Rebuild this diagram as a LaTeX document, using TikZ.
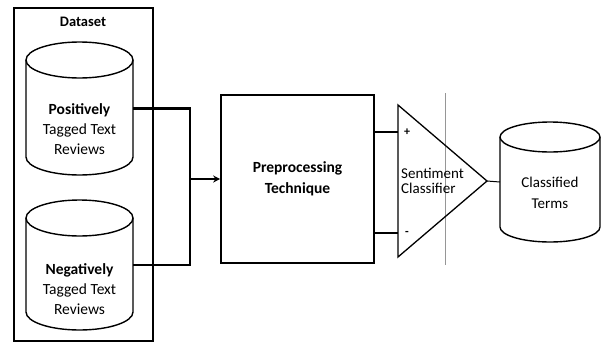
\documentclass[tikz,border=0pt]{standalone}
\usepackage{fontspec}
\setmainfont{Carlito}
\usepackage{tikz}
\usetikzlibrary{arrows.meta,positioning,calc}
\definecolor{LineGray}{RGB}{150,150,150}

\begin{document}
\begin{tikzpicture}[x=1pt, y=1pt,
    txt/.style={font=\fontsize{15.5}{20}\selectfont, align=center, inner sep=0pt},
    dbbody/.style={inner sep=0pt, outer sep=0pt},
    cyl/.style={line width=1.4pt},
    conn/.style={line width=2.2pt}]
        \useasboundingbox (0,0) rectangle (602,-343);
        % dataset frame
        \node[draw, line width=1.6pt, minimum width=139, minimum height=333, inner sep=0pt] (dataset) at (83.5,-174.5) {};
        \node[txt, font=\fontsize{14.5}{20}\selectfont\bfseries] (dslabel) at (83,-22) {Dataset};
        % positive reviews
        \node[dbbody, minimum width=107, minimum height=97] (posdb) at (79.5,-108.5) {};
        \draw[cyl] (posdb.north west) -- (posdb.south west) arc (180:360:53.5 and 18) -- (posdb.north east);
        \draw[cyl] (posdb.north) ellipse (53.5 and 18);
        \node[txt] (postxt) at (79.5,-129) {\textbf{Positively}\\Tagged Text\\Reviews};
        % negative reviews
        \node[dbbody, minimum width=107, minimum height=94] (negdb) at (79.5,-265) {};
        \draw[cyl] (negdb.north west) -- (negdb.south west) arc (180:360:53.5 and 18) -- (negdb.north east);
        \draw[cyl] (negdb.north) ellipse (53.5 and 18);
        \node[txt] (negtxt) at (79.5,-289) {\textbf{Negatively}\\Tagged Text\\Reviews};
        % preprocessing
        \node[draw, line width=1.6pt, minimum width=153, minimum height=168, inner sep=0pt] (pre) at (297.5,-179) {};
        \node[txt, font=\fontsize{15.5}{21}\selectfont\bfseries] (pretxt) at (pre) {Preprocessing\\Technique};
        \coordinate (join) at (190,-179);
        \draw[conn] (posdb.east) -| (join);
        \draw[conn] (negdb.east) -| (join);
        \draw[line width=2pt, -{Stealth[length=7pt, width=7pt]}] (join) -- (pre.west);
        % classifier
        \node[dbbody, minimum width=89, minimum height=152] (clf) at (442.5,-181) {};
        \draw[LineGray, line width=0.8pt] (445,-93) -- (445,-265);
        \draw[line width=1.3pt] (clf.north west) -- (clf.east) -- (clf.south west) -- cycle;
        \node[txt, font=\fontsize{15}{14.5}\selectfont, align=left, anchor=west] (clftxt) at (401,-181) {Sentiment\\Classifier};
        \node[txt, font=\fontsize{12}{12}\selectfont\bfseries] (plus) at (407,-132) {+};
        \node[txt, font=\fontsize{12}{12}\selectfont\bfseries] (minus) at (407,-233) {-};
        \draw[line width=1.8pt] (pre.east |- plus) -- (clf.west |- plus);
        \draw[line width=1.8pt] (pre.east |- minus) -- (clf.west |- minus);
        % classified terms
        \node[dbbody, minimum width=100, minimum height=90] (outdb) at (550,-182) {};
        \draw[cyl] (outdb.north west) -- (outdb.south west) arc (180:360:50 and 15) -- (outdb.north east);
        \draw[cyl] (outdb.north) ellipse (50 and 15);
        \node[txt, font=\fontsize{15}{21}\selectfont] (outtxt) at (550,-193) {Classified\\Terms};
        \draw[line width=1pt] (clf.east) -- (outdb.west);
\end{tikzpicture}
\end{document}
